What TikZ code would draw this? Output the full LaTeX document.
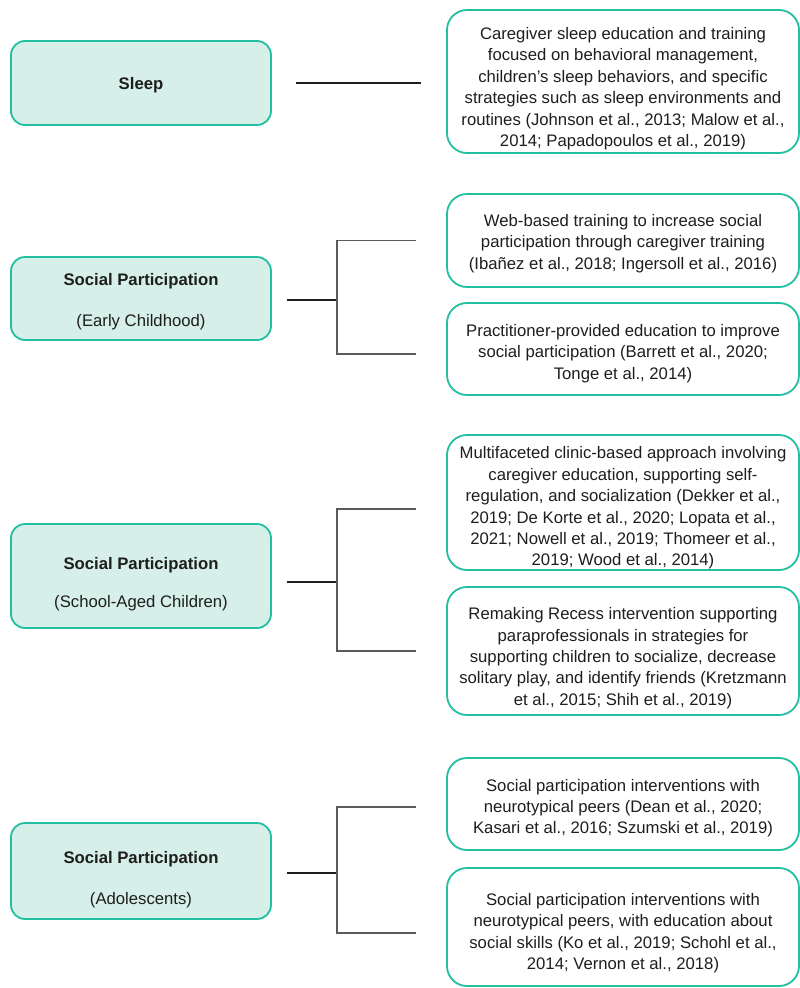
\documentclass[tikz,border=0pt]{standalone}
\usepackage{fontspec}
\setmainfont{Liberation Sans}
\definecolor{boxfill}{HTML}{D6EFE9}
\definecolor{boxline}{HTML}{22BFA0}
\definecolor{ink}{HTML}{1E1E1E}
\definecolor{branchgray}{HTML}{5A5A5A}
% invisible strut that lowers a node's text block by #1 pt inside a fixed-height box
\newcommand\dropby[1]{\rule{0pt}{\dimexpr 12.4pt + #1pt + #1pt\relax}}

\begin{document}
\begin{tikzpicture}[x=1pt,y=-1pt,
  topic/.style={draw=boxline, fill=boxfill, line width=1.8pt, rounded corners=14pt,
    minimum width=260pt, align=center, text=ink, inner sep=0pt,
    font=\fontsize{16.7}{21.4}\selectfont},
  detail/.style={draw=boxline, fill=white, line width=1.8pt, rounded corners=20pt,
    minimum width=352pt, align=center, text=ink, inner sep=0pt,
    font=\fontsize{16.7}{21.4}\selectfont},
  stub/.style={draw=ink, line width=1.8pt},
  branch/.style={draw=branchgray, line width=1.8pt}]

\useasboundingbox (0,0) rectangle (800,988);

% ---- left column: topic boxes ----
\node[topic, minimum height=84pt]  (sleep) at (141,83)    {\dropby{2}\bfseries Sleep};
\node[topic, minimum height=83pt]  (early) at (141,298.5) {\dropby{3}\bfseries Social Participation\\[19pt](Early Childhood)};
\node[topic, minimum height=104pt] (school) at (141,576)  {\dropby{8}\bfseries Social Participation\\[17pt](School-Aged Children)};
\node[topic, minimum height=96pt]  (adol) at (141,871)    {\dropby{8.5}\bfseries Social Participation\\[19.5pt](Adolescents)};

% ---- right column: intervention boxes ----
\node[detail, minimum height=143pt] (r1) at (623,81.5) {\dropby{7}Caregiver sleep education and training\\
  focused on behavioral management,\\ children’s sleep behaviors, and specific\\
  strategies such as sleep environments and\\ routines (Johnson et al., 2013; Malow et al.,\\
  2014; Papadopoulos et al., 2019)};
\node[detail, minimum height=93pt] (e1) at (623,240.5) {\dropby{3}Web-based training to increase social\\
  participation through caregiver training\\ (Ibañez et al., 2018; Ingersoll et al., 2016)};
\node[detail, minimum height=92pt] (e2) at (623,349) {\dropby{4.5}Practitioner-provided education to improve\\
  social participation (Barrett et al., 2020;\\ Tonge et al., 2014)};
\node[detail, minimum height=135pt] (s1) at (623,502.5) {\dropby{5.5}Multifaceted clinic-based approach involving\\
  caregiver education, supporting self-\\ regulation, and socialization (Dekker et al.,\\
  2019; De Korte et al., 2020; Lopata et al.,\\ 2021; Nowell et al., 2019; Thomeer et al.,\\
  2019; Wood et al., 2014)};
\node[detail, minimum height=128pt] (s2) at (623,651) {\dropby{7}Remaking Recess intervention supporting\\
  paraprofessionals in strategies for\\ supporting children to socialize, decrease\\
  solitary play, and identify friends (Kretzmann\\ et al., 2015; Shih et al., 2019)};
\node[detail, minimum height=92pt] (a1) at (623,804) {\dropby{4}Social participation interventions with\\
  neurotypical peers (Dean et al., 2020;\\ Kasari et al., 2016; Szumski et al., 2019)};
\node[detail, minimum height=118pt] (a2) at (623,927) {\dropby{6}Social participation interventions with\\
  neurotypical peers, with education about\\ social skills (Ko et al., 2019; Schohl et al.,\\
  2014; Vernon et al., 2018)};

% ---- connectors ----
\draw[stub, shorten <=24pt, shorten >=25pt] (sleep.east) -- (sleep.east -| r1.west);

\coordinate (ej) at (337,300);
\coordinate (sj) at (337,582);
\coordinate (aj) at (337,873);

\draw[stub, shorten <=15pt] (early.east |- ej) -- (ej);
\draw[branch, shorten >=30pt] (ej) |- (e1.west);
\draw[branch, shorten >=30pt] (ej) |- ([yshift=-5pt]e2.west);

\draw[stub, shorten <=15pt] (school.east |- sj) -- (sj);
\draw[branch, shorten >=30pt] (sj) |- ([yshift=-6.5pt]s1.west);
\draw[branch, shorten >=30pt] (sj) |- (s2.west);

\draw[stub, shorten <=15pt] (adol.east |- aj) -- (aj);
\draw[branch, shorten >=30pt] (aj) |- ([yshift=-3pt]a1.west);
\draw[branch, shorten >=30pt] (aj) |- ([yshift=-6pt]a2.west);
\end{tikzpicture}
\end{document}
